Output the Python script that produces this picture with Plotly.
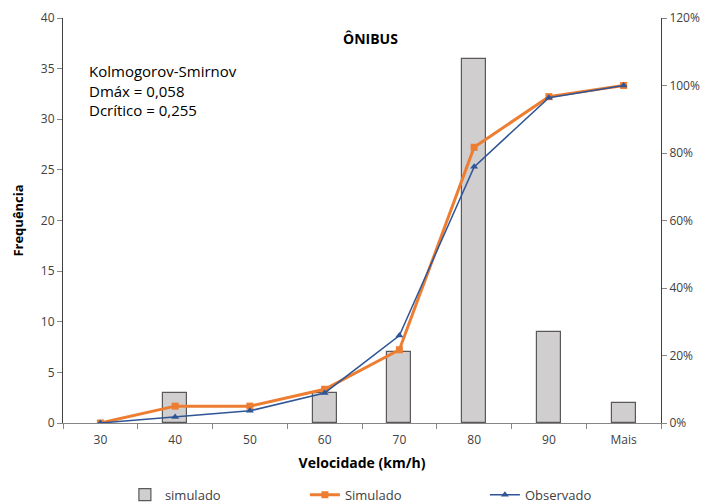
import plotly.graph_objects as go

categorias = ["30", "40", "50", "60", "70", "80", "90", "Mais"]
freq_simulado = [0, 3, 0, 3, 7, 36, 9, 2]
cum_simulado = [0.0, 5.0, 5.0, 10.0, 21.7, 81.7, 96.7, 100.0]
cum_observado = [0.0, 1.8, 3.6, 8.9, 25.9, 75.9, 96.4, 100.0]

FONT = "Open Sans"

fig = go.Figure()
fig.add_trace(go.Bar(
    x=categorias, y=[v if v else None for v in freq_simulado], name="simulado",
    marker=dict(color="#D0CECE", line=dict(color="#595959", width=1.2)),
    width=0.32, yaxis="y",
))
fig.add_trace(go.Scatter(
    x=categorias, y=cum_simulado, name="Simulado", mode="lines+markers",
    line=dict(color="#ED7D31", width=3),
    marker=dict(symbol="square", size=7, color="#ED7D31"),
    yaxis="y2",
))
fig.add_trace(go.Scatter(
    x=categorias, y=cum_observado, name="Observado", mode="lines+markers",
    line=dict(color="#2F5597", width=1.5),
    marker=dict(symbol="triangle-up", size=7, color="#2F5597"),
    yaxis="y2",
))

fig.update_layout(
    width=703, height=504,
    margin=dict(l=63, r=42, t=18, b=81, autoexpand=False),
    paper_bgcolor="white", plot_bgcolor="white",
    font=dict(family=FONT, size=12, color="#404040"),
    showlegend=True,
    bargap=0,
    xaxis=dict(
        type="category", showline=True, linecolor="#868686", linewidth=1,
        ticks="outside", tickson="boundaries", ticklen=5, tickcolor="#868686",
        showgrid=False, tickfont=dict(size=12, color="#404040"), automargin=False,
        ticklabelstandoff=6,
        title=dict(text="<b>Velocidade (km/h)</b>", font=dict(size=14, color="black"), standoff=10),
    ),
    yaxis=dict(
        range=[0, 40], dtick=5, showline=True, linecolor="#404040", linewidth=1,
        ticks="outside", ticklen=5, tickcolor="#868686", showgrid=False, zeroline=False,
        tickfont=dict(size=12, color="#404040"), automargin=False,
        title=dict(text="<b>Frequência</b>", font=dict(size=13, color="black"), standoff=14),
    ),
    yaxis2=dict(
        range=[0, 120], dtick=20, overlaying="y", side="right", showline=True,
        linecolor="#404040", linewidth=1, ticks="outside", ticklen=5, tickcolor="#868686",
        showgrid=False, zeroline=False, ticksuffix="%", automargin=False,
        tickfont=dict(size=12, color="#404040"),
    ),
    legend=dict(
        orientation="h", x=0.555, xanchor="center", y=-0.14, yanchor="top",
        font=dict(size=13, color="#404040"), entrywidth=135, entrywidthmode="pixels",
        traceorder="normal",
    ),
    annotations=[
        dict(text="<b>ÔNIBUS</b>", x=0.515, y=0.977, xref="paper", yref="paper",
             showarrow=False, font=dict(size=14, color="black")),
        dict(text="Kolmogorov-Smirnov<br>Dmáx = 0,058<br>Dcrítico = 0,255",
             x=0.04, y=0.9, xref="paper", yref="paper", xanchor="left", yanchor="top",
             align="left", showarrow=False, font=dict(size=15, color="black")),
    ],
)

fig.write_html("out.html", config={"displayModeBar": False},
               post_script="document.body.style.margin='0';document.body.style.overflow='hidden';")
